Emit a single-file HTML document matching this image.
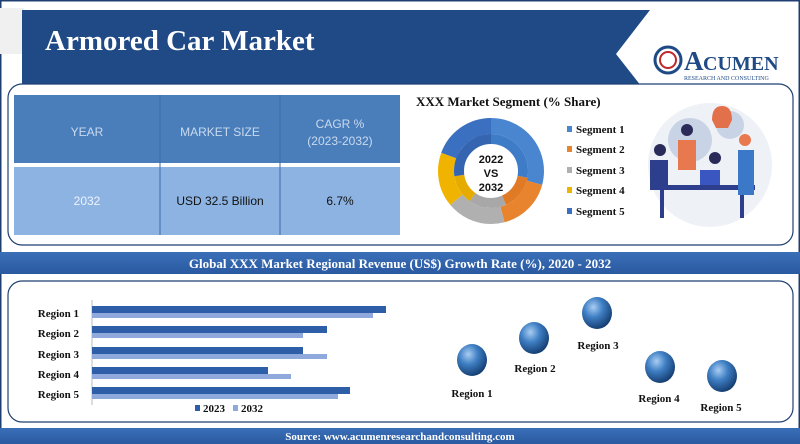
<!DOCTYPE html>
<html><head><meta charset="utf-8"><style>
body{margin:0;width:800px;height:444px;overflow:hidden;background:#fff;font-family:"Liberation Serif",serif;}
.s{position:absolute;}
</style></head><body>
<svg width="800" height="444" style="position:absolute;left:0;top:0" font-family="Liberation Serif, serif">
<defs>
<radialGradient id="sp" cx="0.38" cy="0.32" r="0.7">
<stop offset="0" stop-color="#a9cdf2"/><stop offset="0.45" stop-color="#3f7fc4"/><stop offset="1" stop-color="#143d70"/></radialGradient>
<linearGradient id="band" x1="0" y1="0" x2="0" y2="1"><stop offset="0" stop-color="#3a6fb8"/><stop offset="1" stop-color="#2a5aa0"/></linearGradient>
</defs>
<rect x="0.5" y="0.5" width="799" height="443" fill="#fff" stroke="#1f3f73" stroke-width="2"/>
<rect x="0" y="8" width="24" height="46" fill="#f0f0f0"/>
<rect x="22" y="100" width="16" height="24" fill="#1f3f73"/>
<polygon points="22,10 650,10 616,54 652,100 22,100" fill="#1f4a85"/>
<text x="45" y="50" fill="#fff" font-size="29" font-weight="bold">Armored Car Market</text>
<circle cx="668" cy="60" r="13" fill="none" stroke="#1f4a85" stroke-width="3"/>
<circle cx="668" cy="60" r="8" fill="none" stroke="#c0282d" stroke-width="2"/>
<text x="684" y="70" fill="#1f4a85" font-size="27" font-weight="bold">A</text>
<text x="703" y="70" fill="#1f4a85" font-size="20" font-weight="bold">CUMEN</text>
<text x="684" y="80" fill="#1f4a85" font-size="6">RESEARCH AND CONSULTING</text>
<rect x="8" y="84" width="785" height="161" rx="14" fill="#fff" stroke="#1f3f73" stroke-width="1.2"/>
<rect x="14" y="95" width="386" height="68" fill="#4a7ebb"/>
<rect x="14" y="167" width="386" height="68" fill="#8db3e2"/>
<line x1="160" y1="95" x2="160" y2="235" stroke="#3b6aa6" stroke-width="1"/>
<line x1="280" y1="95" x2="280" y2="235" stroke="#3b6aa6" stroke-width="1"/>
<g font-family="Liberation Sans, sans-serif" font-size="12" text-anchor="middle">
<text x="87" y="136" fill="#c9d9ee">YEAR</text>
<text x="220" y="136" fill="#c9d9ee">MARKET SIZE</text>
<text x="340" y="128" fill="#c9d9ee">CAGR %</text>
<text x="340" y="145" fill="#c9d9ee">(2023-2032)</text>
<text x="87" y="205" fill="#eef3fa">2032</text>
<text x="220" y="205" fill="#111">USD 32.5 Billion</text>
<text x="340" y="205" fill="#111">6.7%</text>
</g>
<text x="416" y="106" font-size="13" font-weight="bold" fill="#111">XXX Market Segment (% Share)</text>
<g transform="rotate(-90 491 171)" fill="none">
<circle cx="491" cy="171" r="45" stroke="#4a86d0" stroke-width="16" stroke-dasharray="82.5 500" stroke-dashoffset="0"/>
<circle cx="491" cy="171" r="45" stroke="#e8832e" stroke-width="16" stroke-dasharray="47 500" stroke-dashoffset="-82.5"/>
<circle cx="491" cy="171" r="45" stroke="#b0b0b0" stroke-width="16" stroke-dasharray="51 500" stroke-dashoffset="-129.5"/>
<circle cx="491" cy="171" r="45" stroke="#f0b400" stroke-width="16" stroke-dasharray="47 500" stroke-dashoffset="-180.5"/>
<circle cx="491" cy="171" r="45" stroke="#3b6fbf" stroke-width="16" stroke-dasharray="55 500" stroke-dashoffset="-227.5"/>
<circle cx="491" cy="171" r="32" stroke="#3f7cc8" stroke-width="10" stroke-dasharray="56 500"/>
<circle cx="491" cy="171" r="32" stroke="#e07a25" stroke-width="10" stroke-dasharray="31 500" stroke-dashoffset="-56"/>
<circle cx="491" cy="171" r="32" stroke="#a8a8a8" stroke-width="10" stroke-dasharray="33 500" stroke-dashoffset="-87"/>
<circle cx="491" cy="171" r="32" stroke="#e5ab00" stroke-width="10" stroke-dasharray="26 500" stroke-dashoffset="-120"/>
<circle cx="491" cy="171" r="32" stroke="#3565b0" stroke-width="10" stroke-dasharray="55 500" stroke-dashoffset="-146"/>
</g>
<g font-family="Liberation Sans, sans-serif" font-size="11" font-weight="bold" text-anchor="middle" fill="#111">
<text x="491" y="163">2022</text><text x="491" y="177">VS</text><text x="491" y="191">2032</text></g>
<g font-size="11" font-weight="bold" fill="#111">
<rect x="567" y="126" width="5" height="6" fill="#4a86d0"/><text x="576" y="133">Segment 1</text>
<rect x="567" y="146" width="5" height="6" fill="#e8832e"/><text x="576" y="153">Segment 2</text>
<rect x="567" y="167" width="5" height="6" fill="#b0b0b0"/><text x="576" y="174">Segment 3</text>
<rect x="567" y="187" width="5" height="6" fill="#f0b400"/><text x="576" y="194">Segment 4</text>
<rect x="567" y="208" width="5" height="6" fill="#3b6fbf"/><text x="576" y="215">Segment 5</text>
</g>
<circle cx="710" cy="165" r="62" fill="#eef1f6"/>
<circle cx="690" cy="140" r="22" fill="#c8d3e6"/>
<circle cx="730" cy="125" r="14" fill="#c8d3e6"/>
<path d="M712 120 q0 -14 10 -14 q10 0 10 14 l-4 8 h-12z" fill="#e2704a"/>
<rect x="650" y="185" width="105" height="5" fill="#2d3f8c"/>
<rect x="660" y="190" width="4" height="28" fill="#2d3f8c"/><rect x="740" y="190" width="4" height="28" fill="#2d3f8c"/>
<rect x="650" y="160" width="18" height="26" fill="#2d3f8c"/><circle cx="660" cy="150" r="6" fill="#2b2b5a"/>
<rect x="678" y="140" width="18" height="30" fill="#e8794f"/><circle cx="687" cy="130" r="6" fill="#2b2b5a"/>
<rect x="700" y="170" width="20" height="15" fill="#3a56c0"/><circle cx="715" cy="158" r="6" fill="#2b2b5a"/>
<rect x="738" y="150" width="16" height="45" fill="#3b78c8"/><circle cx="745" cy="140" r="6" fill="#e8794f"/>
<rect x="0" y="252" width="800" height="22" fill="url(#band)"/>
<text x="400" y="268" fill="#fff" font-size="13" font-weight="bold" text-anchor="middle">Global XXX Market Regional Revenue (US$) Growth Rate (%), 2020 - 2032</text>
<rect x="8" y="281" width="785" height="141" rx="14" fill="#fff" stroke="#1f3f73" stroke-width="1.2"/>
<line x1="92" y1="300" x2="92" y2="405" stroke="#bbb"/>
<g font-size="11" font-weight="bold" fill="#111" text-anchor="end">
<text x="79" y="317">Region 1</text><text x="79" y="337">Region 2</text><text x="79" y="358">Region 3</text><text x="79" y="378">Region 4</text><text x="79" y="398">Region 5</text></g>
<g fill="#2f5ea8">
<rect x="92" y="306" width="294" height="7"/><rect x="92" y="326" width="235" height="7"/><rect x="92" y="347" width="211" height="7"/><rect x="92" y="367" width="176" height="7"/><rect x="92" y="387" width="258" height="7"/></g>
<g fill="#8fa9dc">
<rect x="92" y="313" width="281" height="5"/><rect x="92" y="333" width="211" height="5"/><rect x="92" y="354" width="235" height="5"/><rect x="92" y="374" width="199" height="5"/><rect x="92" y="394" width="246" height="5"/></g>
<g font-size="11" font-weight="bold" fill="#111">
<rect x="195" y="405" width="5" height="6" fill="#2f5ea8"/><text x="203" y="412">2023</text>
<rect x="233" y="405" width="5" height="6" fill="#8fa9dc"/><text x="241" y="412">2032</text></g>
<g fill="url(#sp)">
<ellipse cx="472" cy="360" rx="15" ry="16"/><ellipse cx="534" cy="338" rx="15" ry="16"/><ellipse cx="597" cy="313" rx="15" ry="16"/><ellipse cx="660" cy="367" rx="15" ry="16"/><ellipse cx="722" cy="376" rx="15" ry="16"/></g>
<g font-size="11" font-weight="bold" fill="#111" text-anchor="middle">
<text x="472" y="397">Region 1</text><text x="535" y="372">Region 2</text><text x="598" y="349">Region 3</text><text x="659" y="402">Region 4</text><text x="721" y="411">Region 5</text></g>
<rect x="0" y="428" width="800" height="16" fill="url(#band)"/>
<text x="400" y="440" fill="#fff" font-size="11" font-weight="bold" text-anchor="middle">Source: www.acumenresearchandconsulting.com</text>
</svg>
</body></html>
